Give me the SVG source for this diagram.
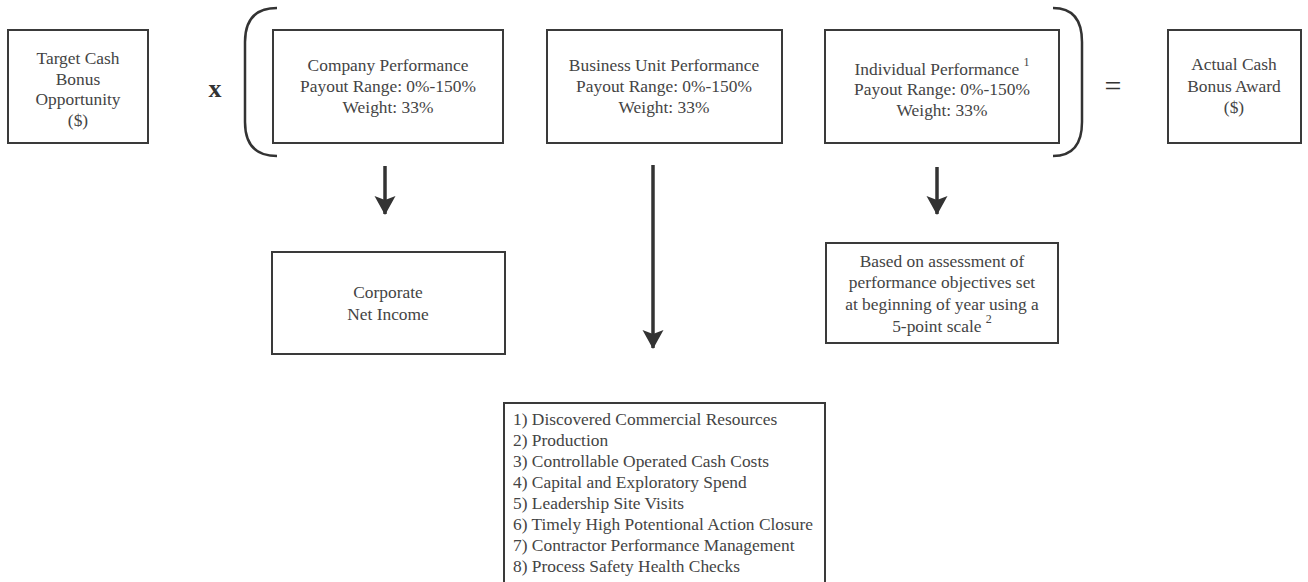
<svg xmlns="http://www.w3.org/2000/svg" width="1308" height="582" viewBox="0 0 1308 582">
<style>
.box{fill:#fff;stroke:#3a3a3a;stroke-width:2}
.t{font-family:"Liberation Serif","Times New Roman",serif;font-size:17.4px;fill:#444}
.c{text-anchor:middle}
.sup{font-size:12px}
.br{fill:none;stroke:#333;stroke-width:2.5}
.ar{stroke:#333;stroke-width:3.5;fill:none}
</style>
<defs>
<marker id="ah" markerUnits="userSpaceOnUse" markerWidth="26" markerHeight="26" viewBox="-22 -13 26 26" refX="0" refY="0" orient="auto">
<path d="M 1 0 L -18 -10.5 L -14 0 L -18 10.5 Z" fill="#333"/>
</marker>
</defs>
<rect width="1308" height="582" fill="#fff"/>
<g id="target">
<rect class="box" x="8" y="30" width="140" height="113"/>
<text class="t c" x="78" y="64">Target Cash</text>
<text class="t c" x="78" y="85">Bonus</text>
<text class="t c" x="78" y="105">Opportunity</text>
<text class="t c" x="78" y="126">($)</text>
</g>
<g id="times">
<text x="215" y="97" font-family="Liberation Serif, serif" font-size="26" font-weight="bold" fill="#333" text-anchor="middle">x</text>
</g>
<g id="brackets">
<path class="br" d="M 277 8 C 255 8 245 20 245 42 L 245 122 C 245 144 255 156 277 156"/>
<path class="br" d="M 1053 8 C 1073 8 1082 20 1082 42 L 1082 122 C 1082 144 1073 156 1053 156"/>
</g>
<g id="company">
<rect class="box" x="273" y="30" width="230" height="113"/>
<text class="t c" x="388" y="71">Company Performance</text>
<text class="t c" x="388" y="92">Payout Range: 0%-150%</text>
<text class="t c" x="388" y="113">Weight: 33%</text>
</g>
<g id="bu">
<rect class="box" x="547" y="30" width="235" height="113"/>
<text class="t c" x="664" y="71">Business Unit Performance</text>
<text class="t c" x="664" y="92">Payout Range: 0%-150%</text>
<text class="t c" x="664" y="113">Weight: 33%</text>
</g>
<g id="individual">
<rect class="box" x="825" y="30" width="234" height="113"/>
<text class="t c" x="942" y="75">Individual Performance <tspan class="sup" dy="-9">1</tspan></text>
<text class="t c" x="942" y="95">Payout Range: 0%-150%</text>
<text class="t c" x="942" y="116">Weight: 33%</text>
</g>
<g id="equals">
<text x="1113" y="96" font-family="Liberation Serif, serif" font-size="30" fill="#333" text-anchor="middle">=</text>
</g>
<g id="actual">
<rect class="box" x="1168" y="30" width="133" height="113"/>
<text class="t c" x="1234" y="70">Actual Cash</text>
<text class="t c" x="1234" y="92">Bonus Award</text>
<text class="t c" x="1234" y="113">($)</text>
</g>
<g id="corporate">
<rect class="box" x="272" y="252" width="233" height="102"/>
<text class="t c" x="388" y="298">Corporate</text>
<text class="t c" x="388" y="320">Net Income</text>
</g>
<g id="based">
<rect class="box" x="826" y="243" width="232" height="100"/>
<text class="t c" x="942" y="267">Based on assessment of</text>
<text class="t c" x="942" y="288">performance objectives set</text>
<text class="t c" x="942" y="310">at beginning of year using a</text>
<text class="t c" x="942" y="332">5-point scale <tspan class="sup" dy="-9">2</tspan></text>
</g>
<g id="list">
<rect class="box" x="504" y="403" width="321" height="190"/>
<text class="t" x="513" y="425">1) Discovered Commercial Resources</text>
<text class="t" x="513" y="446">2) Production</text>
<text class="t" x="513" y="467">3) Controllable Operated Cash Costs</text>
<text class="t" x="513" y="488">4) Capital and Exploratory Spend</text>
<text class="t" x="513" y="509">5) Leadership Site Visits</text>
<text class="t" x="513" y="530">6) Timely High Potentional Action Closure</text>
<text class="t" x="513" y="551">7) Contractor Performance Management</text>
<text class="t" x="513" y="572">8) Process Safety Health Checks</text>
</g>
<g id="connectors">
<line class="ar" x1="385" y1="166" x2="385" y2="214" marker-end="url(#ah)"/>
<line class="ar" x1="653" y1="165" x2="653" y2="348" marker-end="url(#ah)"/>
<line class="ar" x1="937" y1="167" x2="937" y2="214" marker-end="url(#ah)"/>
</g>
</svg>
